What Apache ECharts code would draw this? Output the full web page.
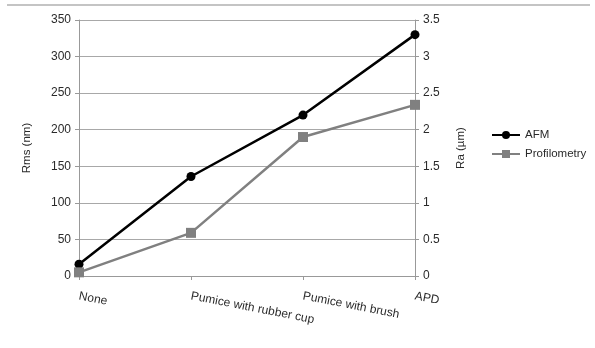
<!DOCTYPE html>
<html>
<head>
<meta charset="utf-8">
<script src="https://cdn.jsdelivr.net/npm/echarts@6/dist/echarts.min.js"></script>
<style>
html,body{margin:0;padding:0;background:#fff;}
#c{width:595px;height:348px;}
</style>
</head>
<body>
<div id="c"></div>
<script>
const categories = ['None', 'Pumice with rubber cup', 'Pumice with brush', 'APD'];
const afm = [16, 136, 220, 330];
const profilometry = [0.05, 0.59, 1.9, 2.34];
const leftTicks = [0, 350, 50];
const rightTicks = [0, 3.5, 0.5];

const font = 'Liberation Sans';
const txt = '#2a2a2a';
const chart = echarts.init(document.getElementById('c'));
chart.setOption({
  animation: false,
  backgroundColor: '#fff',
  textStyle: {fontFamily: font},
  graphic: [{
    type: 'line', shape: {x1: 7, y1: 5, x2: 590, y2: 5},
    style: {stroke: '#b0b0b0', lineWidth: 1.5}
  }],
  grid: {left: 79, right: 180, top: 20, bottom: 72},
  legend: {
    orient: 'vertical', left: 486, top: 124, itemGap: 7,
    itemWidth: 28, itemHeight: 10,
    textStyle: {fontSize: 11.5, color: txt, fontFamily: font},
    data: ['AFM', 'Profilometry']
  },
  xAxis: {
    type: 'category', data: categories, boundaryGap: false,
    axisLine: {lineStyle: {color: '#999', width: 1}},
    axisTick: {show: true, length: 4, alignWithLabel: true, lineStyle: {color: '#999'}},
    axisLabel: {rotate: -11, fontSize: 12, color: txt, margin: 20, interval: 0, align: 'left'}
  },
  yAxis: [{
    type: 'value', min: leftTicks[0], max: leftTicks[1], interval: leftTicks[2],
    name: 'Rms (nm)', nameLocation: 'middle', nameGap: 46, nameRotate: 90,
    nameTextStyle: {fontSize: 11.5, color: txt},
    axisLine: {show: true, lineStyle: {color: '#999'}},
    axisTick: {show: true, length: 4, lineStyle: {color: '#999'}},
    axisLabel: {fontSize: 12, color: txt, margin: 8},
    splitLine: {lineStyle: {color: '#a8a8a8', width: 1}}
  }, {
    type: 'value', min: rightTicks[0], max: rightTicks[1], interval: rightTicks[2],
    name: 'Ra (µm)', nameLocation: 'middle', nameGap: 40, nameRotate: 90,
    nameTextStyle: {fontSize: 11.5, color: txt},
    axisLine: {show: true, lineStyle: {color: '#999'}},
    axisTick: {show: true, length: 4, lineStyle: {color: '#999'}},
    axisLabel: {fontSize: 12, color: txt, margin: 8},
    splitLine: {show: false}
  }],
  series: [{
    name: 'AFM', type: 'line', yAxisIndex: 0, data: afm,
    symbol: 'circle', symbolSize: 9,
    lineStyle: {color: '#000', width: 2.5},
    itemStyle: {color: '#000'}
  }, {
    name: 'Profilometry', type: 'line', yAxisIndex: 1, data: profilometry,
    symbol: 'rect', symbolSize: 10,
    lineStyle: {color: '#808080', width: 2.5},
    itemStyle: {color: '#808080'}
  }]
});
</script>
</body>
</html>
